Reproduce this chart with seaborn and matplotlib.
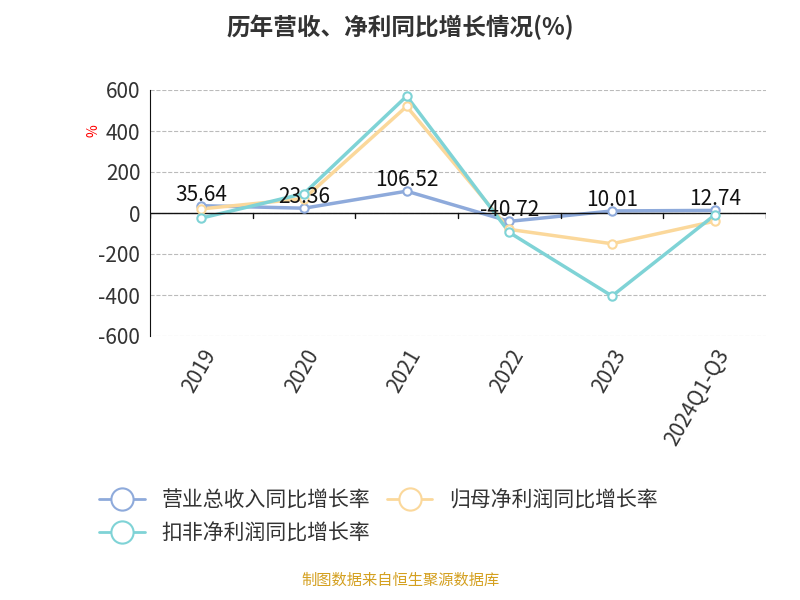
import matplotlib
matplotlib.use("Agg")
import matplotlib.pyplot as plt
import seaborn as sns
import pandas as pd
from matplotlib.lines import Line2D

years = ["2019", "2020", "2021", "2022", "2023", "2024Q1-Q3"]
revenue = [35.64, 23.36, 106.52, -40.72, 10.01, 12.74]
net_profit = [20, 70, 520, -80, -150, -40]
deducted = [-25, 95, 570, -95, -405, -10]

names = ["营业总收入同比增长率", "归母净利润同比增长率", "扣非净利润同比增长率"]
colors = ["#8eaadb", "#fbd89b", "#7fd3d6"]

sns.set_style("white")
plt.rcParams['font.family'] = ['Noto Sans CJK SC', 'DejaVu Sans']
plt.rcParams['axes.unicode_minus'] = False

df = pd.DataFrame({"year": years * 3,
                   "value": revenue + net_profit + deducted,
                   "series": [n for n in names for _ in years]})
df["x"] = list(range(len(years))) * 3

fig = plt.figure(figsize=(8, 6), dpi=100)
ax = fig.add_axes([0.1875, 0.44, 0.77, 0.41])
sns.lineplot(data=df, x="x", y="value", hue="series", palette=colors, ax=ax,
             linewidth=2.5, legend=False)
# hollow markers drawn on top of each line
for vals, c in zip([revenue, net_profit, deducted], colors):
    ax.plot(range(len(years)), vals, linestyle="none", marker="o", markersize=6,
            markerfacecolor="white", markeredgecolor=c, markeredgewidth=1.5, zorder=5)
for i, v in enumerate(revenue):
    ax.text(i, v, f"{v:.2f}", ha="center", va="bottom", fontsize=15, color="#111111", zorder=6)

ax.set_xlim(-0.5, 5.5)
ax.set_ylim(-600, 600)
ax.set_yticks(range(-600, 601, 200))
ax.set_xticks(range(len(years)))
ax.set_xticklabels(years, rotation=60, ha="right", rotation_mode="anchor", fontsize=15, color="#333333")
ax.tick_params(axis="y", labelsize=15, labelcolor="#333333")
ax.set_xlabel("")
ax.set_ylabel("")
ax.grid(axis="y", linestyle="--", color="#bbbbbb")
for s in ["top", "right", "bottom"]:
    ax.spines[s].set_visible(False)
ax.spines["left"].set_color("#111111")
ax.axhline(0, color="#111111", linewidth=1)
for i in range(len(years) + 1):
    ax.plot([i - 0.5, i - 0.5], [0, -25], color="#111111", linewidth=1)
ax.text(-1.05, 400, "%", color="red", fontsize=10, rotation=90, ha="center", va="center")

fig.text(0.5, 0.955, "历年营收、净利同比增长情况(%)", ha="center", va="center",
         fontsize=17, fontweight="bold", color="#333333")

handles = [Line2D([], [], color=c, marker="o", markersize=16, markerfacecolor="white",
                  markeredgewidth=1.5, linewidth=2) for c in colors]
order = [0, 2, 1]
fig.legend([handles[i] for i in order], [names[i] for i in order], loc="upper left",
           bbox_to_anchor=(0.1, 0.215), ncol=2, frameon=False, fontsize=15,
           handlelength=2.2, columnspacing=0.8, labelcolor="#333333")
fig.text(0.5, 0.018, "制图数据来自恒生聚源数据库", ha="center", va="bottom",
         fontsize=11, color="#d4a020")
fig.savefig("out.png")
